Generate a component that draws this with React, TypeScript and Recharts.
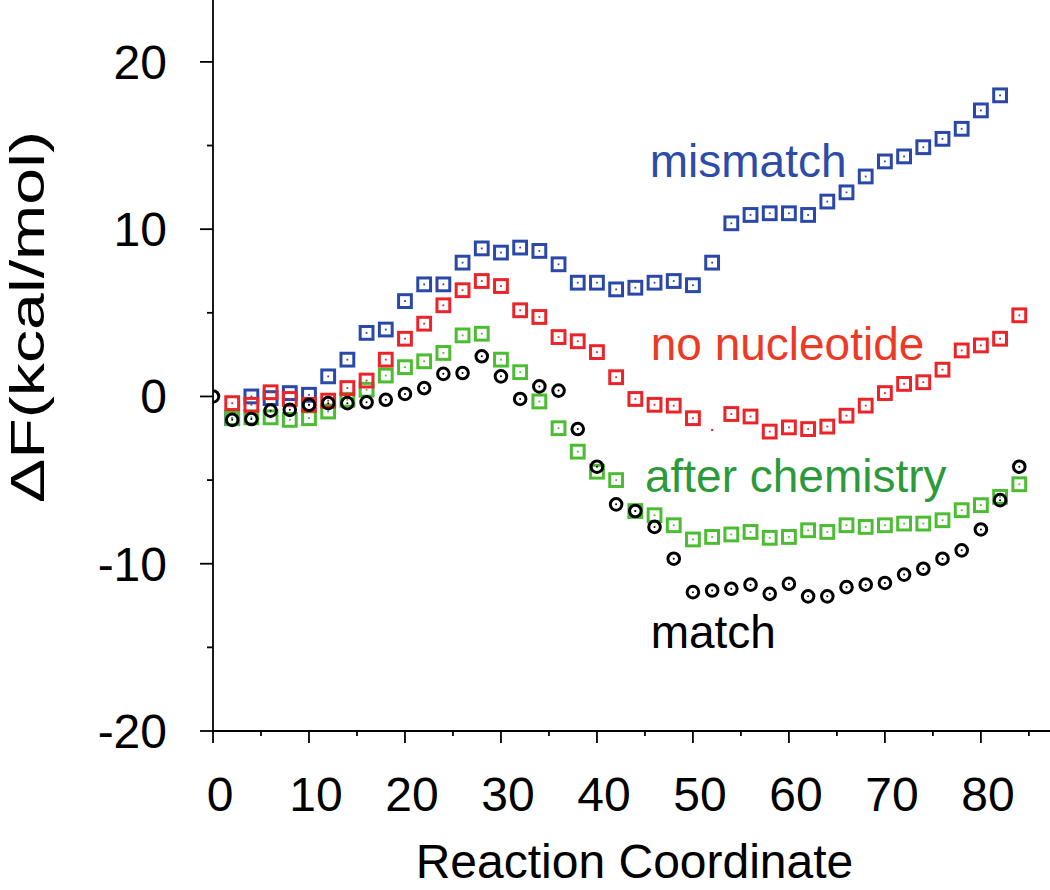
import React from "react";
import { ScatterChart, Scatter, XAxis, YAxis } from "recharts";

const FONT = '"Liberation Sans", Arial, Helvetica, sans-serif';

// reaction coordinate of each window
const coord = [
  0, 2, 4, 6, 8, 10, 12, 14, 16, 18, 20, 22, 24, 26, 28, 30, 32, 34, 36, 38, 40, 42,
  44, 46, 48, 50, 52, 54, 56, 58, 60, 62, 64, 66, 68, 70, 72, 74, 76, 78, 80, 82, 84,
];

// free energy profiles, kcal/mol (null = no point)
const mismatch = [
  null, -1.3, 0.0, -0.1, 0.2, 0.1, 1.2, 2.2, 3.8, 4.0, 5.7, 6.7, 6.7, 8.0, 8.85, 8.6,
  8.9, 8.7, 7.9, 6.8, 6.8, 6.4, 6.5, 6.8, 6.9, 6.65, 8.0, 10.35, 10.85, 10.95, 10.95,
  10.85, 11.65, 12.2, 13.15, 14.05, 14.35, 14.9, 15.4, 16.0, 17.1, 18.0, null,
];
const noNucleotide = [
  null, -0.4, -0.5, 0.25, -0.15, -0.5, -0.25, 0.5, 0.95, 2.2, 3.45, 4.35, 5.45, 6.35,
  6.9, 6.6, 5.15, 4.75, 3.55, 3.3, 2.65, 1.15, -0.15, -0.5, -0.55, -1.3, null, -1.05,
  -1.2, -2.1, -1.85, -1.95, -1.8, -1.15, -0.55, 0.2, 0.75, 0.85, 1.6, 2.75, 3.05, 3.45,
  4.85,
];
// the one red window at 52 only shows its centre dot
const noNucleotideStray = [{ x: 52, y: -2.0 }];
const afterChemistry = [
  null, -1.3, -1.25, -1.25, -1.4, -1.3, -0.9, -0.2, 0.4, 1.25, 1.75, 2.1, 2.6, 3.65,
  3.75, 2.2, 1.45, -0.3, -1.9, -3.3, -4.5, -5.0, -6.85, -7.1, -7.7, -8.55, -8.4, -8.25,
  -8.1, -8.45, -8.4, -8.0, -8.1, -7.7, -7.8, -7.7, -7.6, -7.6, -7.4, -6.8, -6.5, -6.0,
  -5.25,
];
const match = [
  0, -1.4, -1.35, -0.85, -0.8, -0.5, -0.4, -0.4, -0.35, -0.2, 0.15, 0.5, 1.35, 1.4, 2.4,
  1.2, -0.15, 0.6, 0.35, -1.95, -4.2, -6.45, -6.85, -7.8, -9.7, -11.7, -11.6, -11.5,
  -11.25, -11.8, -11.2, -11.95, -11.95, -11.4, -11.25, -11.15, -10.65, -10.3, -9.7,
  -9.2, -7.95, -6.2, -4.2,
];

const xTicks = [0, 5, 10, 15, 20, 25, 30, 35, 40, 45, 50, 55, 60, 65, 70, 75, 80, 85];
const yTicks = [-20, -15, -10, -5, 0, 5, 10, 15, 20];

// in-plot series names, placed in data units (left edge, baseline)
const labelText = ["mismatch", "no nucleotide", "after chemistry", "match"];
const labelX = [45.5, 45.6, 45.0, 45.6];
const labelY = [13.1, 2.2, -5.7, -15.05];

const BLUE = "#2a48a8";
const RED = "#ea2428";
const GREEN = "#4cbc32";
const labelColors = ["#2d4ca8", "#ec3a26", "#2c9a3a", "#000000"];

const toPoints = (vals: (number | null)[]) =>
  coord
    .map((x, i) => ({ x, y: vals[i] }))
    .filter((d) => d.y !== null && d.y !== undefined);

const labels = labelText.map((text, i) => ({
  x: labelX[i],
  y: labelY[i],
  text,
  color: labelColors[i],
}));

const squareShape = (color: string) => (props: any) => {
  const { cx, cy } = props;
  if (cx == null || cy == null) return <g />;
  return (
    <g>
      <rect
        x={cx - 6.4}
        y={cy - 6.4}
        width={12.8}
        height={12.8}
        fill="none"
        stroke={color}
        strokeWidth={3}
      />
      <rect x={cx - 0.9} y={cy - 0.9} width={1.8} height={1.8} fill={color} />
    </g>
  );
};

const circleShape = (props: any) => {
  const { cx, cy } = props;
  if (cx == null || cy == null) return <g />;
  return (
    <g>
      <circle cx={cx} cy={cy} r={5.8} fill="none" stroke="#000" strokeWidth={3} />
      <circle cx={cx} cy={cy} r={1} fill="#000" />
    </g>
  );
};

const dotShape = (props: any) => {
  const { cx, cy } = props;
  if (cx == null || cy == null) return <g />;
  return <circle cx={cx} cy={cy} r={1.2} fill={RED} />;
};

const textShape = (props: any) => {
  const { cx, cy, payload } = props;
  if (cx == null || cy == null) return <g />;
  return (
    <text x={cx} y={cy} fill={payload.color} fontSize={46} fontFamily={FONT}>
      {payload.text}
    </text>
  );
};

const XTick = (props: any) => {
  const { x, y, payload } = props;
  const major = payload.value % 10 === 0;
  return (
    <g>
      <line x1={x} y1={y} x2={x} y2={y + (major ? 12 : 5)} stroke="#000" strokeWidth={1.8} />
      {major && (
        <text x={x + 7} y={y + 80} textAnchor="middle" fontSize={48} fill="#000" fontFamily={FONT}>
          {payload.value}
        </text>
      )}
    </g>
  );
};

const YTick = (props: any) => {
  const { x, y, payload } = props;
  const major = payload.value % 10 === 0;
  return (
    <g>
      <line x1={x} y1={y} x2={x - (major ? 13 : 6)} y2={y} stroke="#000" strokeWidth={1.8} />
      {major && (
        <text x={x - 46} y={y + 17} textAnchor="end" fontSize={48} fill="#000" fontFamily={FONT}>
          {payload.value}
        </text>
      )}
    </g>
  );
};

const YTitle = (props: any) => {
  const { viewBox } = props;
  const x = viewBox.x + 44;
  const y = viewBox.y + 317;
  return (
    <text
      x={x}
      y={y}
      transform={`rotate(-90, ${x}, ${y})`}
      textAnchor="middle"
      fontSize={48}
      textLength={372}
      lengthAdjust="spacingAndGlyphs"
      fill="#000"
      fontFamily={FONT}
    >
      ΔF(kcal/mol)
    </text>
  );
};

export default function App() {
  return (
    <div style={{ position: "absolute", left: 0, top: 0, background: "#fff" }}>
      <ScatterChart width={1050} height={890} margin={{ top: 0, right: 0, bottom: 0, left: 0 }}>
        <XAxis
          type="number"
          dataKey="x"
          domain={[0, 87.2]}
          ticks={xTicks}
          interval={0}
          height={159}
          tickSize={0}
          tickMargin={0}
          tickLine={false}
          tick={<XTick />}
          axisLine={{ stroke: "#000", strokeWidth: 1.8 }}
          allowDataOverflow
          label={{
            value: "Reaction Coordinate",
            position: "insideBottom",
            offset: 12,
            dx: 3,
            fontSize: 48,
            fill: "#000",
            fontFamily: FONT,
          }}
        />
        <YAxis
          type="number"
          dataKey="y"
          domain={[-20, 23.7]}
          ticks={yTicks}
          interval={0}
          width={213}
          tickSize={0}
          tickMargin={0}
          tickLine={false}
          tick={<YTick />}
          axisLine={{ stroke: "#000", strokeWidth: 1.8 }}
          allowDataOverflow
          label={{ content: YTitle }}
        />
        <Scatter data={toPoints(mismatch)} shape={squareShape(BLUE)} isAnimationActive={false} />
        <Scatter data={toPoints(afterChemistry)} shape={squareShape(GREEN)} isAnimationActive={false} />
        <Scatter data={toPoints(noNucleotide)} shape={squareShape(RED)} isAnimationActive={false} />
        <Scatter data={noNucleotideStray} shape={dotShape} isAnimationActive={false} />
        <Scatter data={toPoints(match)} shape={circleShape} isAnimationActive={false} />
        <Scatter data={labels} shape={textShape} isAnimationActive={false} />
      </ScatterChart>
    </div>
  );
}
